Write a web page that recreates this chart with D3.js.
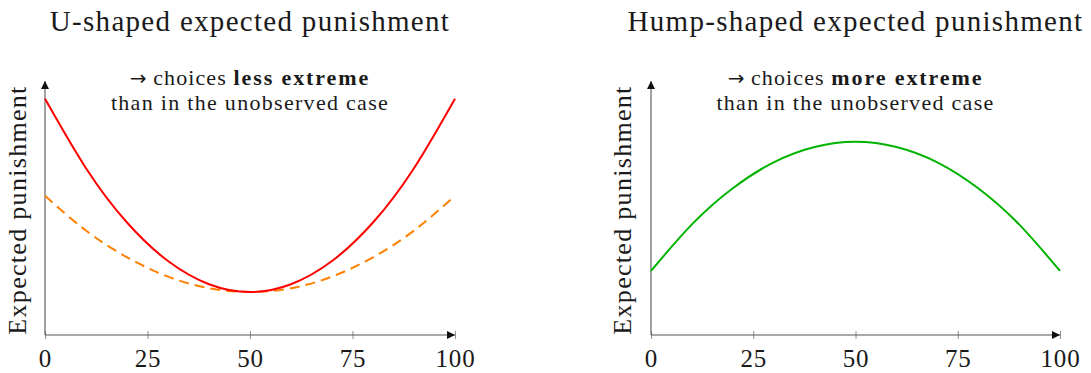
<!DOCTYPE html>
<html>
<head>
<meta charset="utf-8">
<script src="https://cdn.jsdelivr.net/npm/d3@7"></script>
<style>
  html, body { margin: 0; padding: 0; background: #fff; }
  svg { display: block; }
  text { font-family: "Liberation Serif", "Times New Roman", serif; fill: #1a1a1a; }
</style>
</head>
<body>
<svg id="chart" width="1091" height="373"></svg>
<script>
// Choice position (0–100) at which the curves are sampled
const positions = [0, 10, 20, 30, 40, 50, 60, 70, 80, 90, 100];
const xTicks = [0, 25, 50, 75, 100];

// Expected punishment, arbitrary units
const uShaped      = [10.0, 7.06, 4.76, 3.13, 2.15, 1.82, 2.15, 3.13, 4.76, 7.06, 10.0];
const uUnobserved  = [5.89, 4.42, 3.29, 2.47, 1.98, 1.82, 1.98, 2.47, 3.29, 4.42, 5.89];
const humpShaped   = [2.71, 4.68, 6.21, 7.31, 7.96, 8.18, 7.96, 7.31, 6.21, 4.68, 2.71];

const titles = ["U-shaped expected punishment", "Hump-shaped expected punishment"];
const notesBold = ["less extreme", "more extreme"];
const yLabel = "Expected punishment";

const svg = d3.select("#chart");

// arrow head used on both axes
svg.append("defs").append("marker")
  .attr("id", "arrow")
  .attr("viewBox", "0 0 10 10")
  .attr("refX", 10).attr("refY", 5)
  .attr("markerWidth", 10).attr("markerHeight", 8)
  .attr("markerUnits", "userSpaceOnUse")
  .attr("orient", "auto")
  .append("path")
  .attr("d", "M0,0 L10,5 L0,10 Z")
  .attr("fill", "#111");

const panels = [
  { left: 45,  right: 455,  title: titles[0], bold: notesBold[0], labelX: 18,
    series: [
      { values: uUnobserved, color: "#ff8000", dash: "10,6" },
      { values: uShaped,     color: "#ff0000", dash: null }
    ] },
  { left: 651, right: 1060, title: titles[1], bold: notesBold[1], labelX: 623,
    series: [
      { values: humpShaped,  color: "#00b300", dash: null }
    ] }
];

const axisY = 335, topY = 81;

panels.forEach(p => {
  const x = d3.scaleLinear().domain([0, 100]).range([p.left, p.right]);
  const y = d3.scaleLinear().domain([0, 10.75]).range([axisY, topY]);
  const cx = (p.left + p.right) / 2;
  const g = svg.append("g");

  // title
  g.append("text")
    .attr("x", cx).attr("y", 31)
    .attr("text-anchor", "middle")
    .style("font-size", "29px")
    .style("letter-spacing", "1.3px")
    .text(p.title);

  // annotation
  const note = g.append("text")
    .attr("x", cx).attr("y", 85)
    .attr("text-anchor", "middle")
    .style("font-size", "22px")
    .style("letter-spacing", "1.1px");
  note.append("tspan")
    .style("font-family", '"DejaVu Sans", sans-serif')
    .style("font-size", "20px")
    .style("letter-spacing", "0px")
    .text("\u2192");
  note.append("tspan").text(" choices ");
  note.append("tspan").style("font-weight", "bold").style("letter-spacing", "1.9px").text(p.bold);
  g.append("text")
    .attr("x", cx).attr("y", 110)
    .attr("text-anchor", "middle")
    .style("font-size", "22px")
    .style("letter-spacing", "1.3px")
    .text("than in the unobserved case");

  // y label
  g.append("text")
    .attr("transform", `translate(${p.labelX + 8},${(topY + axisY) / 2 + 2}) rotate(-90)`)
    .attr("text-anchor", "middle")
    .style("font-size", "26px")
    .style("letter-spacing", "1.3px")
    .text(yLabel);

  // x axis ticks and labels
  const ax = g.append("g")
    .attr("transform", `translate(0,${axisY})`)
    .call(d3.axisBottom(x).tickValues(xTicks).tickSize(4).tickPadding(0));
  ax.select(".domain").remove();
  ax.selectAll(".tick line").attr("y1", -4).attr("y2", 4).attr("stroke", "#777").attr("stroke-width", 0.8);
  ax.selectAll(".tick text")
    .attr("fill", "#1a1a1a")
    .attr("y", 32)
    .attr("dy", 0)
    .style("font-family", '"Liberation Serif", serif')
    .style("font-size", "25px")
    .style("letter-spacing", "0.8px");

  // axis lines with arrows
  g.append("line")
    .attr("x1", x(0)).attr("y1", axisY).attr("x2", x(100)).attr("y2", axisY)
    .attr("stroke", "#555").attr("stroke-width", 1.1)
    .attr("marker-end", "url(#arrow)");
  g.append("line")
    .attr("x1", x(0)).attr("y1", axisY).attr("x2", x(0)).attr("y2", topY)
    .attr("stroke", "#555").attr("stroke-width", 1.1)
    .attr("marker-end", "url(#arrow)");

  // curves
  const line = d3.line()
    .x((d, i) => x(positions[i]))
    .y(d => y(d))
    .curve(d3.curveNatural);
  p.series.forEach(s => {
    g.append("path")
      .attr("d", line(s.values))
      .attr("fill", "none")
      .attr("stroke", s.color)
      .attr("stroke-width", 2)
      .attr("stroke-dasharray", s.dash);
  });
});
</script>
</body>
</html>
